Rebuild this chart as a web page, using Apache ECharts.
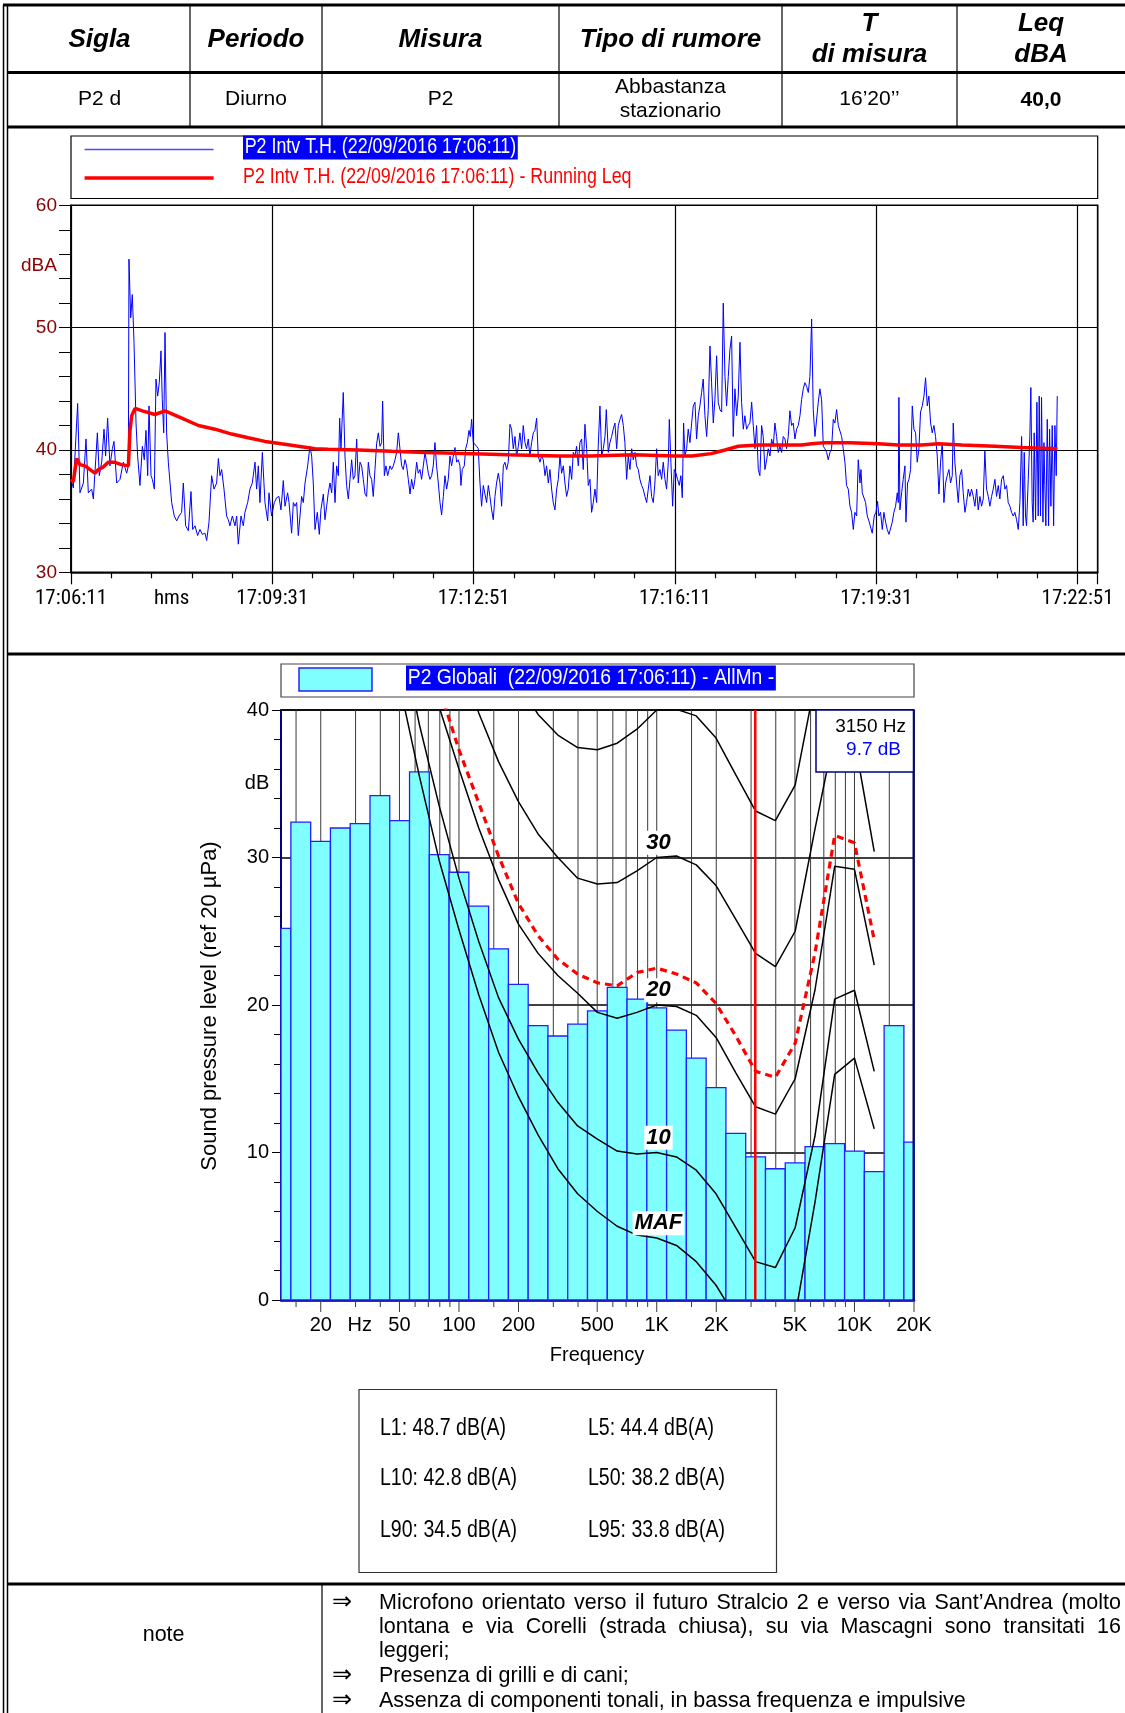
<!DOCTYPE html>
<html><head><meta charset="utf-8">
<script src="https://cdn.jsdelivr.net/npm/echarts@6/dist/echarts.min.js"></script>
<style>html,body{margin:0;padding:0;background:#fff}#c{width:1125px;height:1713px}</style>
</head><body><div id="c"></div>
<script>
// ---------------- DATA ----------------
// Time history (seconds from 17:06:11, dBA)
const thPart1 = [[0,37.6],[2.3,36.9],[6.6,43.8],[8.9,36.5],[12.3,37.3],[14.9,40.9],[17.2,36.5],[20.5,36.8],[22.2,36.0],[26.2,41.4],[28.1,37.9],[30.5,39.0],[32.8,41.7],[34.4,39.5],[36.4,42.6],[38.7,38.7],[41.1,40.1],[42.7,40.7],[45.4,37.3],[48.7,37.6],[52.0,39.0],[55.3,38.1],[57.0,38.7],[57.6,55.6],[59.3,50.8],[60.9,52.7],[62.6,48.8],[64.6,42.2],[66.2,39.5],[68.5,37.1],[70.9,40.3],[72.8,39.2],[74.5,41.6],[76.2,37.9],[77.5,43.6],[79.5,37.9],[80.8,37.6],[82.8,36.8],[84.4,45.8],[86.1,44.4],[87.7,45.5],[89.4,48.1],[90.7,44.1],[92.1,41.4],[93.4,49.6],[95.0,41.4],[96.7,39.0],[98.3,39.0],[100.0,35.7],[102.6,34.6],[105.0,34.2],[107.3,34.6],[109.9,34.9],[111.6,37.3],[113.9,33.8],[116.6,33.4],[119.2,36.6],[120.9,33.5],[123.2,33.8],[125.8,33.0],[128.1,33.5],[130.5,33.1],[133.1,33.2],[134.8,32.6],[137.1,34.1],[139.7,37.9],[142.1,36.8],[144.7,37.3],[146.4,39.3],[148.0,37.9],[149.7,38.4],[152.0,36.8],[154.6,34.6],[156.3,34.3],[157.9,33.8],[160.3,34.6],[162.9,33.8],[164.6,34.6],[166.2,32.3],[168.9,34.6],[171.2,33.8],[172.8,34.9],[175.5,35.7],[177.8,36.8],[180.1,37.3],[182.8,39.0],[184.4,36.8],[186.1,38.7],[187.7,35.7],[190.1,39.8],[192.7,35.7],[195.4,34.2],[196.7,36.5],[199.3,34.6],[202.0,35.7],[204.3,36.1],[206.6,36.2],[208.6,35.1],[210.9,37.5],[212.6,35.4],[215.2,36.5],[216.6,35.7],[219.2,33.2],[220.9,35.7],[222.5,35.4],[224.2,35.7],[225.8,33.0],[227.5,34.6],[229.1,36.2],[230.8,35.7],[232.5,37.3],[235.1,38.7],[237.4,40.3],[239.1,39.5],[240.7,37.3],[242.4,33.5],[244.7,34.9],[246.7,33.1],[248.3,35.1],[250.7,36.4],[252.3,34.3],[254.0,35.4],[255.6,36.5]];
const thPart2 = [[257.3,37.3],[259.0,36.5],[260.6,39.0],[262.3,35.7],[263.9,38.7],[265.6,37.9],[266.9,42.6],[268.2,40.1],[270.5,44.7],[272.2,39.5],[273.8,37.1],[275.5,36.0],[277.2,37.6],[278.8,39.2],[280.5,37.6],[282.1,37.9],[283.8,40.9],[285.4,37.3],[287.1,39.0],[288.7,38.7],[290.4,37.6],[292.1,36.4],[293.7,36.2],[295.4,39.0],[297.0,37.9],[298.7,37.6],[300.3,36.2],[302.0,38.4],[303.6,40.5],[305.3,41.4],[307.0,40.3],[308.6,40.6],[309.6,44.0],[311.3,37.9],[312.9,38.7],[314.6,37.9],[316.9,38.7],[318.5,38.4],[320.2,38.7],[321.9,39.2],[323.5,39.8],[325.2,41.4],[326.8,40.1],[328.5,38.7],[330.1,38.4],[331.8,39.2],[333.4,38.7],[335.1,37.6],[336.8,36.4],[338.4,37.6],[340.1,36.8],[341.7,37.6],[343.4,39.0],[345.0,38.1],[346.7,38.4],[348.3,37.6],[350.0,38.7],[351.7,39.8],[353.3,39.0],[355.0,38.1],[356.6,37.6],[358.3,37.9],[359.9,38.7],[361.6,40.6],[363.2,38.7],[364.9,37.3],[366.6,35.7],[368.2,34.7],[369.9,36.2],[371.5,37.9],[373.2,36.8],[374.8,37.6],[376.5,39.5],[378.1,38.7],[379.8,39.5],[381.5,40.2],[383.1,39.0],[384.8,39.2],[386.4,38.7],[387.4,37.1],[388.7,38.4],[390.7,38.7],[392.1,40.1],[393.7,40.6],[395.4,41.6],[396.7,41.1],[398.0,42.5],[399.7,40.6],[401.3,40.7],[403.0,40.3],[404.6,40.1],[406.3,37.3],[407.9,35.4],[409.6,37.1],[411.3,37.1],[412.9,35.7],[414.6,37.1],[416.2,36.2],[417.9,35.1],[419.5,34.3],[421.2,36.2],[422.8,37.3],[424.5,38.1],[426.2,37.3],[427.8,35.4],[429.5,38.7],[431.1,39.0],[432.8,38.4],[434.4,39.0],[436.1,42.1],[437.7,41.7],[439.4,40.1],[441.1,41.1],[442.7,39.5],[444.4,40.3],[446.0,41.4],[447.7,40.1],[449.3,42.0],[451.0,40.6],[452.6,40.1],[454.3,40.9],[455.9,39.5],[457.6,40.6],[459.3,41.4],[460.9,41.6],[462.6,42.6],[464.2,39.5],[465.9,39.0],[467.5,39.5],[469.2,39.2],[470.9,37.9],[472.5,38.7],[474.2,37.3],[475.8,38.4],[477.5,36.8],[479.1,35.7],[480.8,35.1],[482.5,36.8],[484.1,37.6],[485.8,39.5],[487.4,38.1],[489.1,38.7],[490.7,37.3],[492.4,36.2],[494.0,36.8],[495.7,38.7],[497.4,37.6],[499.0,39.8],[500.7,39.5],[502.3,40.3],[504.0,38.7],[505.6,40.6],[507.3,40.9],[508.9,38.4],[510.6,42.1],[512.3,40.1],[513.9,37.1]];
const thPart3 = [[515.6,37.6],[517.2,34.9],[518.9,35.7],[520.5,36.8],[522.2,35.7],[523.8,40.3],[525.5,43.6],[527.2,39.5],[528.8,40.1],[530.5,41.1],[531.8,43.3],[533.8,39.8],[535.4,40.6],[537.1,41.1],[538.7,41.7],[540.4,42.2],[542.1,40.1],[543.7,42.0],[545.4,42.5],[547.0,42.9],[548.7,42.0],[550.3,40.6],[552.0,37.6],[553.6,39.5],[555.3,38.4],[557.0,40.1],[558.6,39.2],[560.3,39.8],[561.9,38.7],[563.6,38.4],[565.2,37.6],[566.9,37.1],[568.5,36.8],[570.2,36.2],[571.9,35.7],[573.5,36.8],[575.2,37.9],[576.8,36.2],[578.5,35.7],[580.1,37.3],[581.8,40.1],[583.4,37.9],[585.1,38.4],[586.8,37.6],[588.4,39.0],[590.1,37.6],[591.7,36.8],[593.4,39.0],[594.4,42.5],[596.0,39.0],[597.7,35.4],[599.3,38.4],[601.0,38.1],[602.6,37.6],[604.3,37.1],[605.9,37.9],[607.3,36.1],[608.6,42.2],[609.9,39.5],[611.6,40.1],[613.2,41.7],[614.9,40.6],[616.6,42.2],[618.2,43.6],[619.9,43.9],[621.5,40.9],[623.2,42.8],[624.8,43.6],[626.5,44.7],[628.1,45.8],[629.8,42.8],[631.5,41.1],[633.1,43.3],[634.8,48.5],[636.4,45.5],[638.1,42.2],[639.7,44.1],[641.4,47.7],[643.0,43.9],[644.7,43.3],[646.4,43.1],[648.0,52.0],[649.7,46.0],[651.3,43.6],[653.0,46.0],[654.6,48.2],[656.3,49.3],[657.9,41.1],[659.6,45.0],[661.3,42.8],[662.9,44.4],[664.6,48.8],[666.2,43.9],[667.9,41.7],[669.5,42.8],[671.2,41.7],[672.8,42.0],[674.5,42.2],[676.2,43.9],[677.8,42.0],[679.5,40.1],[681.1,42.0],[682.8,38.4],[684.4,37.9],[686.1,42.0],[687.7,41.1],[689.4,38.4],[691.1,39.2],[692.7,40.1],[694.4,39.5],[696.0,40.9],[697.7,40.3],[699.3,42.2],[701.0,41.1],[702.6,39.8],[704.3,40.3],[706.0,39.8],[707.6,41.1],[709.3,40.9],[710.9,40.1],[712.6,41.1],[714.2,43.2],[715.9,42.0],[717.5,42.2],[719.2,40.9],[720.9,41.7],[722.5,42.0],[724.2,42.8],[725.8,44.1],[727.5,45.0],[729.1,45.5],[730.8,45.2],[732.5,44.7],[734.1,46.0],[735.8,50.7],[737.4,43.3],[739.1,41.1],[740.7,41.1],[742.4,43.9],[744.0,45.0],[745.7,44.1],[747.4,40.3],[749.0,40.1],[750.7,39.8],[752.3,39.2],[754.0,39.8],[755.6,40.1],[757.3,42.5],[758.9,42.2],[760.6,43.3],[762.3,42.0],[763.9,42.0],[765.6,41.1],[767.2,40.1],[768.9,39.0],[770.5,37.1],[772.2,36.8]];
const thPart4 = [[773.9,35.4],[775.5,34.9],[777.2,33.5],[778.8,34.9],[780.5,34.6],[782.1,39.2],[783.8,37.3],[784.8,38.4],[786.1,36.5],[787.7,36.5],[789.4,35.7],[791.1,34.6],[792.7,34.2],[794.4,34.3],[796.0,33.2],[798.0,34.6],[799.7,34.9],[801.3,35.8],[802.6,34.6],[804.3,34.9],[806.0,33.5],[807.6,34.9],[809.3,34.1],[810.9,33.5],[812.6,33.1],[814.2,33.0],[815.9,34.1],[817.5,34.9],[819.2,35.4],[820.9,36.5],[821.9,35.7],[822.5,44.3],[823.5,35.1],[825.2,36.5],[826.8,37.6],[828.5,38.7],[829.5,34.1],[831.1,37.3],[832.5,37.6],[834.1,38.4],[835.8,43.6],[837.4,41.7],[839.1,41.4],[840.7,39.0],[842.4,40.1],[844.0,43.1],[845.7,43.6],[847.4,44.4],[849.0,45.9],[850.7,43.6],[852.3,44.4],[854.0,42.2],[855.6,41.4],[857.3,42.0],[858.9,41.1],[860.6,39.5],[862.3,36.4],[863.9,39.0],[865.6,40.6],[867.2,35.7],[868.9,37.3],[870.5,37.9],[872.2,38.4],[873.8,37.3],[875.5,37.9],[876.5,42.2],[878.1,39.0],[879.8,37.3],[881.5,35.7],[883.1,37.9],[884.8,38.4],[886.4,36.5],[888.1,34.9],[889.7,35.7],[891.4,36.8],[893.0,36.2],[894.7,36.8],[896.4,36.2],[898.0,35.4],[899.7,36.8],[901.3,35.1],[903.0,36.2],[904.6,35.4],[906.3,36.0],[907.9,39.9],[909.6,36.8],[911.3,36.2],[912.9,35.4],[914.6,36.2],[916.2,36.8],[917.9,37.6],[919.5,36.2],[921.2,37.1],[922.8,36.0],[924.5,37.6],[926.2,37.9],[927.8,36.8],[929.5,37.1],[931.1,35.7],[932.8,35.4],[934.4,34.9],[936.1,34.6],[937.7,34.9],[939.4,34.3],[941.1,33.5],[942.7,35.7],[944.4,41.1],[946.0,33.8],[947.0,39.8],[948.3,34.6],[949.3,33.8],[951.0,37.6],[952.6,41.1],[953.6,45.1],[954.9,35.7],[955.9,34.1],[956.9,41.4],[958.3,34.3],[959.6,43.9],[960.9,34.6],[961.9,44.4],[963.2,34.6],[964.2,44.3],[965.6,34.1],[966.6,40.6],[967.5,37.1],[968.5,33.8],[969.9,42.5],[971.2,33.8],[972.2,41.7],[973.5,35.4],[974.8,42.0],[976.2,33.8],[977.5,42.0],[978.8,37.9],[979.8,44.4]];
// Running Leq (seconds, dBA)
const leqSeconds = [0,2.3,5.6,8.9,13.9,18.9,23.8,27.2,32,37,43,50,57,58.6,60.3,63.6,70.9,83.4,93.4,110,126.6,143,159.6,176,192.7,209,225.8,242.4,255.6,285.4,318.5,351.7,399.7,434.4,484,515,560,600,616.6,636,649.7,663,682.8,709,725.8,735.8,749,774,802,822,845,862,885,918,944,980];
const leqLevels  = [37.6,37.4,39.3,38.8,38.7,38.4,38.1,38.4,38.6,39.0,39.0,38.8,38.7,41.6,42.8,43.4,43.2,42.9,43.2,42.6,42.0,41.7,41.3,41.0,40.7,40.5,40.3,40.1,40.05,40.0,39.9,39.8,39.7,39.6,39.5,39.5,39.6,39.5,39.5,39.7,40.0,40.3,40.4,40.4,40.4,40.5,40.6,40.6,40.5,40.4,40.4,40.5,40.4,40.3,40.2,40.1];
const timeTickSeconds = [0,100,200,400,600,800,1000];
const timeTickLabels  = ['17:06:11','hms','17:09:31','17:12:51','17:16:11','17:19:31','17:22:51'];

// 1/3 octave spectrum
const bandHz = [12.5,16,20,25,31.5,40,50,63,80,100,125,160,200,250,315,400,500,630,800,1000,1250,1600,2000,2500,3150,4000,5000,6300,8000,10000,12500,16000,20000];
const bandDb = [25.2,32.4,31.1,32.0,32.3,34.2,32.5,35.8,30.2,29.0,26.7,23.8,21.4,18.6,17.9,18.7,19.6,21.2,20.4,19.8,18.3,16.4,14.4,11.3,9.7,8.9,9.3,10.4,10.6,10.1,8.7,18.6,10.7];
// Equal-loudness contours
const contourHz = [20,25,31.5,40,50,63,80,100,125,160,200,250,315,400,500,630,800,1000,1250,1600,2000,2500,3150,4000,5000,6300,8000,10000,12500];
const contourMAF = [74.3,65.0,56.3,48.4,41.7,35.5,29.8,25.1,20.7,16.8,13.8,11.2,8.9,7.2,6.0,5.0,4.4,4.2,3.7,2.6,1.0,-1.2,-3.6,-3.9,-1.1,6.6,15.3,16.4,11.6];
const contour10 = [83,74,65,56.5,45.5,39.0,33.5,28.6,24.3,20.5,17.7,15.4,13.4,11.8,10.9,10.1,9.9,10.0,9.7,8.8,7.2,4.9,2.6,2.2,4.9,11.1,20.4,21.0,15.5];
const contour20 = [90,82,73,64,55,47.5,40.2,36.0,32.0,28.5,25.5,23.5,22.0,20.8,19.5,19.1,19.5,20.0,19.9,19.3,17.8,15.4,13.1,12.6,15.0,21.0,29.4,29.2,22.7];
const contour30 = [96,88,80,72,64,56,49,44,39.8,36.5,33.8,31.6,30.0,28.6,28.2,28.3,29.1,30.0,30.1,29.5,28.1,25.8,23.5,22.6,25.0,31.9,38.5,38.0,30.4];
const contour40 = [102,95,87,80,72,65,58,52,47,44,41.8,39.7,38.3,37.45,37.3,37.75,38.7,40.0,40.05,39.6,38.1,35.6,33.15,32.5,34.9,41.8,48,47.5,39.5];
const contourSpectrum = [91,83,74,65,57,49,41.5,37.3,33.7,30.1,26.9,24.7,23.1,22.1,21.5,21.3,22.2,22.5,22.1,21.5,20.1,17.9,15.5,15.1,17.4,23.5,31.5,31.0,24.4];
const contourLabels = [['30',1020,31.0],['20',1020,21.0],['10',1020,11.0],['MAF',1020,5.2]];
const gridHz = [15,20,30,40,50,60,70,80,90,100,150,200,300,400,500,600,700,800,900,1000,1500,2000,3000,4000,5000,6000,7000,8000,9000,10000,15000,20000];
const freqTickHz = [20,31.5,50,100,200,500,1000,2000,5000,10000,20000];
const freqTickLabels = ['20','Hz','50','100','200','500','1K','2K','5K','10K','20K'];
const cursorHz = 3150, cursorDb = 9.7;
const statsLabels = ['L1: 48.7 dB(A)','L5: 44.4 dB(A)','L10: 42.8 dB(A)','L50: 38.2 dB(A)','L90: 34.5 dB(A)','L95: 33.8 dB(A)'];

// ---------------- RENDER ----------------
const SANS = '"Liberation Sans", Arial, Helvetica, sans-serif';
const lg = f => Math.log10(f);
const bandPos = f => Math.round(10 * Math.log10(f)) / 10;

// pick a real narrow face if one is installed
const probe = document.createElement('canvas').getContext('2d');
function hasFont(name){probe.font='40px monospace';const a=probe.measureText('mmmmiiiilll0123').width;
  probe.font='40px "'+name+'", monospace';return Math.abs(probe.measureText('mmmmiiiilll0123').width-a)>0.5;}
const narrowFace = ['Liberation Sans Narrow','Arial Narrow','Noto Sans ExtraCondensed','Noto Sans Condensed','Roboto Condensed'].find(hasFont);
const TIMEFONT = narrowFace ? '"'+narrowFace+'", sans-serif' : SANS;
const TIMESIZE = narrowFace ? 21 : 18;

const G = [];
function ln(x1,y1,x2,y2,w,c,z){G.push({type:'line',silent:true,z:z||10,shape:{x1,y1,x2,y2},style:{stroke:c||'#000',lineWidth:w||1}});}
function tx(x,y,t,o){o=o||{};const a=o.align||'center';
  const st={text:t,fill:o.fill||'#000',fontSize:o.size||20,fontFamily:o.family||SANS,fontWeight:o.weight||'normal',fontStyle:o.fstyle||'normal',align:a,textAlign:a,verticalAlign:'middle',textVerticalAlign:'middle'};
  if(o.bg){st.backgroundColor=o.bg;st.padding=o.pad||[1,3];}
  G.push({type:'text',silent:true,x,y,z:o.z||20,rotation:o.rot||0,scaleX:o.sx||1,style:st});}
function rc(x,y,w,h,o){o=o||{};G.push({type:'rect',silent:true,z:o.z||10,shape:{x,y,width:w,height:h},style:{fill:o.fill||'none',stroke:o.stroke||'#000',lineWidth:o.lw||1}});}

// page frame
ln(3.5,5,3.5,1713,1.5); ln(7.5,5,7.5,1713,1.5);
ln(3,5,1125,5,3); ln(8,72.5,1125,72.5,3); ln(8,127,1125,127,3);
[190,322,559,782,957].forEach(x=>ln(x,5,x,127,1.2));
ln(8,654,1125,654,3); ln(8,1584,1125,1584,3); ln(322,1584,322,1713,1.2);

// header
const HB = {size:26,weight:'bold',fstyle:'italic'};
tx(99.5,40,'Sigla',HB); tx(256,40,'Periodo',HB); tx(440.5,40,'Misura',HB); tx(670.5,40,'Tipo di rumore',HB);
tx(869.5,24,'T',HB); tx(869.5,55,'di misura',HB); tx(1041,24,'Leq',HB); tx(1041,55,'dBA',HB);
tx(99.5,99,'P2 d',{size:21}); tx(256,99,'Diurno',{size:21}); tx(440.5,99,'P2',{size:21});
tx(670.5,87,'Abbastanza',{size:21}); tx(670.5,111,'stazionario',{size:21});
tx(869.5,99,'16’20’’',{size:21}); tx(1041,100,'40,0',{size:21,weight:'bold'});

// time chart legend
rc(71,136,1026.7,62.5,{lw:1.2});
ln(84.6,149.5,213.6,149.5,1.5,'#4a4aff'); ln(84.6,178,213.6,178,3.5,'#ff0000');
tx(243,147.5,'P2 Intv T.H. (22/09/2016 17:06:11)',{align:'left',size:21.5,sx:0.83,fill:'#fff',bg:'#0000ff',pad:[1,2]});
tx(243,177,'P2 Intv T.H. (22/09/2016 17:06:11) - Running Leq',{align:'left',size:21.5,sx:0.83,fill:'#ff0000'});
tx(39,266,'dBA',{size:19,fill:'#8b0000'});

// spectrum legend & labels
rc(281,664,633,33,{lw:1.2,stroke:'#444'});
rc(299,668,73,23,{fill:'#80ffff',stroke:'#2020ff',lw:1.5});
tx(406,678,'P2 Globali  (22/09/2016 17:06:11) - AllMn -',{align:'left',size:22.5,sx:0.86,fill:'#fff',bg:'#0000ff',pad:[1,2]});
tx(257,783,'dB',{size:20});
tx(210,1006,'Sound pressure level (ref 20 µPa)',{size:22,rot:Math.PI/2});
tx(597,1355,'Frequency',{size:20});
ln(913.5,710,913.5,1300,2,'#000080',50);
rc(816,710,97.5,62,{fill:'#fff',stroke:'#000080',lw:1.5,z:100});
tx(906,727,cursorHz+' Hz',{align:'right',size:19,z:101});
tx(901,750,cursorDb.toFixed(1)+' dB',{align:'right',size:19,fill:'#0000ff',z:101});

// statistics box
rc(359,1389.5,417.5,183,{lw:1.2,stroke:'#333'});
[1429,1479,1531].forEach((y,r)=>{tx(380,y,statsLabels[2*r],{align:'left',size:23,sx:0.85});tx(588,y,statsLabels[2*r+1],{align:'left',size:23,sx:0.85});});

// notes
tx(163.6,1635,'note',{size:21.5});
const NF = 21.5;
const mctx = document.createElement('canvas').getContext('2d');
mctx.font = NF+'px "Liberation Sans", Arial, sans-serif';
function justified(str,x0,x1,y){const w=str.split(' ');const ws=w.map(s=>mctx.measureText(s).width);
  const gap=(x1-x0-ws.reduce((a,b)=>a+b,0))/(w.length-1);let x=x0;
  w.forEach((s,i)=>{tx(x,y,s,{align:'left',size:NF});x+=ws[i]+gap;});}
[1603,1676,1701].forEach(y=>tx(342,y,'⇒',{size:24,family:'"DejaVu Sans", sans-serif'}));
justified('Microfono orientato verso il futuro Stralcio 2 e verso via Sant’Andrea (molto',379,1121,1603);
justified('lontana e via Corelli (strada chiusa), su via Mascagni sono transitati 16',379,1121,1627);
tx(379,1651,'leggeri;',{align:'left',size:NF});
tx(379,1676,'Presenza di grilli e di cani;',{align:'left',size:NF});
tx(379,1701,'Assenza di componenti tonali, in bassa frequenza e impulsive',{align:'left',size:NF});

// ---------------- CHART ----------------
const thData = thPart1.concat(thPart2, thPart3, thPart4);
const leqData = leqSeconds.map((t,i)=>[t,leqLevels[i]]);
const cPairs = arr => contourHz.map((f,i)=>[bandPos(f),arr[i]]);
const contourLine = (arr,color,width,type,z) => ({type:'line',xAxisIndex:1,yAxisIndex:1,data:cPairs(arr),symbol:'none',silent:true,z:z||3,
  lineStyle:{color,width,type:type||'solid'}});

const option = {
  animation:false, backgroundColor:'#fff',
  grid:[
    {left:71,top:205.3,width:1026.7,height:367,show:true,borderColor:'#000',borderWidth:1.5},
    {left:281,top:710,width:633,height:590,show:true,borderColor:'#000',borderWidth:1.5}
  ],
  xAxis:[
    {type:'value',gridIndex:0,min:0,max:1020,interval:200,
     axisLine:{show:true,lineStyle:{color:'#000',width:1.5}},
     axisTick:{show:true,length:12,lineStyle:{color:'#000',width:1.2}},
     minorTick:{show:true,splitNumber:5,length:6,lineStyle:{color:'#000',width:1.2}},
     splitLine:{show:true,lineStyle:{color:'#000',width:1.2}},
     axisLabel:{customValues:timeTickSeconds,hideOverlap:false,margin:16,color:'#000',fontFamily:TIMEFONT,fontSize:TIMESIZE,
       formatter:v=>{const i=timeTickSeconds.findIndex(s=>Math.abs(s-v)<1e-6);return i<0?'':timeTickLabels[i];}}},
    {type:'value',gridIndex:1,min:1.1,max:lg(20000),
     axisLine:{show:true,onZero:false,lineStyle:{color:'#000',width:2.5}},
     axisTick:{show:false},splitLine:{show:false},
     axisLabel:{customValues:freqTickHz.map(lg),hideOverlap:false,showMaxLabel:true,margin:15,color:'#000',fontFamily:SANS,fontSize:20,
       formatter:v=>{const i=freqTickHz.findIndex(f=>Math.abs(lg(f)-v)<1e-6);return i<0?'':freqTickLabels[i];}}}
  ],
  yAxis:[
    {type:'value',gridIndex:0,min:30,max:60,interval:10,
     axisLine:{show:true,lineStyle:{color:'#000',width:1.5}},
     axisTick:{show:true,length:12,lineStyle:{color:'#000'}},
     minorTick:{show:true,splitNumber:5,length:12,lineStyle:{color:'#000'}},
     splitLine:{show:true,lineStyle:{color:'#000',width:1.2}},
     axisLabel:{color:'#8b0000',fontFamily:SANS,fontSize:19,margin:14}},
    {type:'value',gridIndex:1,min:0,max:40,interval:10,
     axisLine:{show:true,onZero:false,lineStyle:{color:'#000080',width:2}},
     axisTick:{show:true,length:9,lineStyle:{color:'#000'}},
     minorTick:{show:true,splitNumber:5,length:7,lineStyle:{color:'#000'}},
     splitLine:{show:true,lineStyle:{color:'#000',width:1.5}},
     axisLabel:{color:'#000',fontFamily:SANS,fontSize:20,margin:12}}
  ],
  series:[
    {type:'line',xAxisIndex:0,yAxisIndex:0,data:thData,symbol:'none',silent:true,z:3,lineStyle:{color:'#0000ff',width:1}},
    {type:'line',xAxisIndex:0,yAxisIndex:0,data:leqData,symbol:'none',silent:true,z:4,lineStyle:{color:'#ff0000',width:3.5}},
    {type:'custom',xAxisIndex:1,yAxisIndex:1,silent:true,z:1,
     data:gridHz.map(f=>[lg(f),freqTickHz.indexOf(f)>=0?1:0]),
     renderItem:(p,api)=>{const cs=p.coordSys;const x=api.coord([api.value(0),0])[0];const len=api.value(1)?12:7;
       return {type:'line',shape:{x1:x,y1:cs.y,x2:x,y2:cs.y+cs.height+len},style:{stroke:'#3a3a3a',lineWidth:1}};}},
    {type:'custom',xAxisIndex:1,yAxisIndex:1,silent:true,z:2,
     data:bandHz.map((f,i)=>[bandPos(f),bandDb[i]]),
     renderItem:(p,api)=>{const cs=p.coordSys;const c=api.value(0),v=api.value(1);
       const a=api.coord([c-0.05,v]),b=api.coord([c+0.05,0]);
       const x0=Math.max(a[0],cs.x),x1=Math.min(b[0],cs.x+cs.width);
       return {type:'rect',shape:{x:x0,y:a[1],width:x1-x0,height:b[1]-a[1]},style:{fill:'#80ffff',stroke:'#2020ff',lineWidth:1.3}};}},
    contourLine(contourMAF,'#000',1.5),
    contourLine(contour10,'#000',1.5),
    contourLine(contour20,'#000',1.5),
    contourLine(contour30,'#000',1.5),
    contourLine(contour40,'#000',1.5),
    contourLine(contourSpectrum,'#ff0000',3.2,[7,5],4),
    {type:'custom',xAxisIndex:1,yAxisIndex:1,silent:true,z:5,data:[[lg(cursorHz),cursorDb]],
     renderItem:(p,api)=>{const cs=p.coordSys;const x=api.coord([api.value(0),0])[0];
       return {type:'line',shape:{x1:x,y1:cs.y,x2:x,y2:cs.y+cs.height},style:{stroke:'#ff0000',lineWidth:2.5}};}},
    {type:'scatter',xAxisIndex:1,yAxisIndex:1,silent:true,z:6,symbol:'rect',symbolSize:1,itemStyle:{color:'rgba(255,255,255,0)'},
     data:contourLabels.map(d=>[lg(d[1]),d[2],d[0]]),
     label:{show:true,position:'inside',formatter:p=>p.data[2],color:'#000',opacity:1,textBorderWidth:0,textBorderColor:'transparent',
       fontFamily:SANS,fontSize:22,fontWeight:'bold',fontStyle:'italic',backgroundColor:'#fff',padding:[1,2]}}
  ],
  graphic:{elements:G}
};
const chart = echarts.init(document.getElementById('c'),null,{renderer:'canvas',width:1125,height:1713});
chart.setOption(option);
</script>
</body></html>
